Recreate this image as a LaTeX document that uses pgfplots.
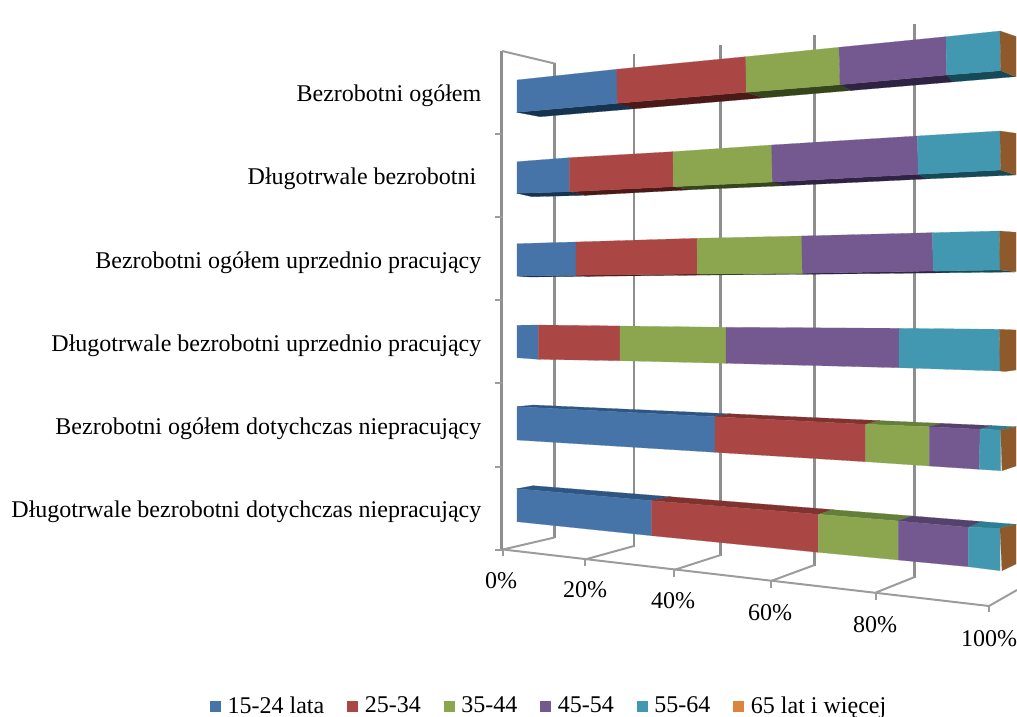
\documentclass[border=0pt]{standalone}
\usepackage{pgfplots}
\pgfplotsset{compat=1.18}
\usepackage{fontspec}
\setmainfont{Liberation Serif}
\definecolor{cB}{HTML}{4673A8}\definecolor{cR}{HTML}{AA4643}\definecolor{cG}{HTML}{8CA64F}
\definecolor{cP}{HTML}{735990}\definecolor{cT}{HTML}{4298B0}\definecolor{cO}{HTML}{DB843D}\definecolor{cE}{HTML}{8F5A2B}
\definecolor{tB}{HTML}{2F5583}\definecolor{tR}{HTML}{7F3330}\definecolor{tG}{HTML}{647F39}
\definecolor{tP}{HTML}{54426C}\definecolor{tT}{HTML}{2F7D93}
\definecolor{uB}{HTML}{16334F}\definecolor{uR}{HTML}{4A1A18}\definecolor{uG}{HTML}{36451C}
\definecolor{uP}{HTML}{2E2342}\definecolor{uT}{HTML}{174A59}
\definecolor{gl}{HTML}{8E8E8E}\definecolor{fl}{HTML}{9C9C9C}
\newcommand\seg[2]{\addplot[forget plot,draw=#1,line width=0.15pt,fill=#1] coordinates {#2} --cycle;}
\newcommand\wall[1]{\addplot[forget plot,draw=gl,line width=2.1pt] coordinates {#1};}
\newcommand\flo[1]{\addplot[forget plot,draw=fl,line width=1.5pt] coordinates {#1};}
\begin{document}
\begin{tikzpicture}
\path[use as bounding box] (0,0) rectangle (762.75pt,537.75pt);
\begin{axis}[
  at={(0,0)},anchor=south west,scale only axis,width=762.75pt,height=537.75pt,
  xmin=0,xmax=1017,ymin=0,ymax=717,y dir=reverse,
  axis line style={draw=none},tick style={draw=none},
  xtick=\empty,
  ytick={94,177,261,344,427,510},
  yticklabels={Bezrobotni ogółem,{Długotrwale bezrobotni\kern3.75pt},Bezrobotni ogółem uprzednio pracujący,Długotrwale bezrobotni uprzednio pracujący,Bezrobotni ogółem dotychczas niepracujący,Długotrwale bezrobotni dotychczas niepracujący},
  typeset ticklabels with strut,
  yticklabel style={font=\fontsize{18pt}{21pt}\selectfont,anchor=east,xshift=364.5pt,yshift=-1.5pt},
  legend columns=6,
  legend style={draw=none,fill=none,at={(axis cs:549.5,706)},anchor=center,
    font=\fontsize{18pt}{21pt}\selectfont,
    /tikz/every even column/.append style={column sep=15.2pt}},
  legend cell align=left,
  legend image code/.code={\path[draw=none,fill=none] (0pt,-3.75pt) rectangle (11pt,3.75pt);\fill[#1] (0pt,-3.75pt) rectangle (7.5pt,3.75pt);},
]
% walls and floor, in picture pixels
\wall{(501.7,51)(501.7,551)}
\wall{(554.5,63)(554.5,538)}
\wall{(634,54)(634,547)}
\wall{(720.7,45)(720.7,556)}
\wall{(814.5,35)(814.5,566)}
\wall{(914.7,24)(914.7,578)}
\flo{(502,51)(554.5,63.5)}
\flo{(495,134)(502,134)}\flo{(495,217)(502,217)}\flo{(495,300)(502,300)}
\flo{(495,383)(502,383)}\flo{(495,467)(502,467)}\flo{(495,550)(502,550)}
\flo{(503,549.5)(989,606)}
\flo{(503,549.5)(503,556)}\flo{(585,559.5)(585,566)}\flo{(674,570)(674,577)}
\flo{(771,581)(771,588)}\flo{(876,592.5)(876,600)}\flo{(989,606)(989,612)}
\flo{(503,549.5)(554.5,537.5)}\flo{(585,559.5)(634,546)}\flo{(674,570)(720.7,555)}
\flo{(771,581)(814.5,565)}\flo{(876,592.5)(914.7,577)}\flo{(989,606)(1017,590)}

% bar 1: Bezrobotni ogółem
\seg{uB}{(517,112.3)(617.3,103.3)(635,108.7)(540,116.7)}
\seg{uR}{(617.3,103.3)(746.3,92.3)(763,97.9)(635,108.7)}
\seg{uG}{(746.3,92.3)(840,84.7)(852,90.4)(763,97.9)}
\seg{uP}{(840,84.7)(946.7,75)(953,81.9)(852,90.4)}
\seg{uT}{(946.7,75)(1000.7,70.7)(1015,76.7)(953,81.9)}
\seg{cB}{(517,80)(616.7,69.3)(617.3,103.3)(517,112.3)}
\seg{cR}{(616.7,69.3)(745.7,56.7)(746.3,92.3)(617.3,103.3)}
\seg{cG}{(745.7,56.7)(839,47.3)(840,84.7)(746.3,92.3)}
\seg{cP}{(839,47.3)(946,36.7)(946.7,75)(840,84.7)}
\seg{cT}{(946,36.7)(1000,31)(1000.7,70.7)(946.7,75)}
\seg{cE}{(1000,31)(1016,36.5)(1016,76.7)(1000.7,70.7)}

% bar 2: Długotrwale bezrobotni
\seg{uB}{(517,193.3)(569.3,191.7)(586,195.3)(532,196.7)}
\seg{uR}{(569.3,191.7)(673.3,186.7)(690,189.8)(586,195.3)}
\seg{uG}{(673.3,186.7)(772.3,182)(785,185.7)(690,189.8)}
\seg{uP}{(772.3,182)(918.3,174.3)(927,178.9)(785,185.7)}
\seg{uT}{(918.3,174.3)(1000.7,170)(1015,175)(927,178.9)}
\seg{cB}{(517,161.7)(569.3,157.7)(569.3,191.7)(517,193.3)}
\seg{cR}{(569.3,157.7)(673,151.7)(673.3,186.7)(569.3,191.7)}
\seg{cG}{(673,151.7)(771.7,145)(772.3,182)(673.3,186.7)}
\seg{cP}{(771.7,145)(917.3,136)(918.3,174.3)(772.3,182)}
\seg{cT}{(917.3,136)(1000,131)(1000.7,170)(918.3,174.3)}
\seg{cE}{(1000,131)(1016,133.3)(1016,175)(1000.7,170)}

% bar 3: Bezrobotni ogółem uprzednio pracujący
\seg{uB}{(517,276)(576,275.3)(590,276.3)(530,277)}
\seg{uR}{(576,275.3)(697.3,274)(710,275)(590,276.3)}
\seg{uG}{(697.3,274)(802.3,273.3)(815,274.2)(710,275)}
\seg{uP}{(802.3,273.3)(933.3,271)(945,272.8)(815,274.2)}
\seg{uT}{(933.3,271)(1000,270)(1015,272)(945,272.8)}
\seg{cB}{(517,243.7)(576,242)(576,275.3)(517,276)}
\seg{cR}{(576,242)(697,238.3)(697.3,274)(576,275.3)}
\seg{cG}{(697,238.3)(801.7,236)(802.3,273.3)(697.3,274)}
\seg{cP}{(801.7,236)(932.3,232.7)(933.3,271)(802.3,273.3)}
\seg{cT}{(932.3,232.7)(999.5,231)(1000,270)(933.3,271)}
\seg{cE}{(999.5,231)(1016,232.3)(1016,271.7)(1000,270)}

% bar 4: Długotrwale bezrobotni uprzednio pracujący
\seg{cB}{(517,325.3)(538.3,325)(538.3,359.3)(517,357.7)}
\seg{cR}{(538.3,325)(620,326)(620,360.7)(538.3,359.3)}
\seg{cG}{(620,326)(726,327.3)(726,363.3)(620,360.7)}
\seg{cP}{(726,327.3)(899,328.3)(899,367.7)(726,363.3)}
\seg{cT}{(899,328.3)(999.5,329.3)(1000,371)(899,367.7)}
\seg{cE}{(999.5,329.3)(1016,330)(1016,370)(1005,371.5)(1000,371)}

% bar 5: Bezrobotni ogółem dotychczas niepracujący
\seg{tB}{(517,406.7)(533,405)(730,413.8)(715,416.7)}
\seg{tR}{(715,416.7)(730,413.8)(880,420.6)(865.7,424.3)}
\seg{tG}{(865.7,424.3)(880,420.6)(942,423.4)(929.3,426.7)}
\seg{tP}{(929.3,426.7)(942,423.4)(992,425.6)(980,429.3)}
\seg{tT}{(980,429.3)(992,425.6)(1016,426.7)(1000.7,430)}
\seg{cB}{(517,406.7)(715,416.7)(715,452.3)(517,440)}
\seg{cR}{(715,416.7)(865.7,424.3)(865.7,461.7)(715,452.3)}
\seg{cG}{(865.7,424.3)(929.3,426.7)(929.3,466)(865.7,461.7)}
\seg{cP}{(929.3,426.7)(980,429.3)(979.3,469.3)(929.3,466)}
\seg{cT}{(980,429.3)(1000.7,430)(1000.7,470.7)(979.3,469.3)}
\seg{cE}{(1000.7,430)(1016,426.7)(1016,466)(1002,470.7)}

% bar 6: Długotrwale bezrobotni dotychczas niepracujący
\seg{tB}{(517,488.7)(533,485.7)(670,496.7)(651.7,500.7)}
\seg{tR}{(651.7,500.7)(670,496.7)(833,509.7)(818.3,514.3)}
\seg{tG}{(818.3,514.3)(833,509.7)(912,516)(898.3,521)}
\seg{tP}{(898.3,521)(912,516)(982,521.6)(968.3,527.3)}
\seg{tT}{(968.3,527.3)(982,521.6)(1016,524.3)(1000,528.3)}
\seg{cB}{(517,488.7)(651.7,500.7)(651.7,535.7)(517,521.7)}
\seg{cR}{(651.7,500.7)(818.3,514.3)(818.3,552.3)(651.7,535.7)}
\seg{cG}{(818.3,514.3)(898.3,521)(898.3,560)(818.3,552.3)}
\seg{cP}{(898.3,521)(968.3,527.3)(968.3,566.7)(898.3,560)}
\seg{cT}{(968.3,527.3)(1000,528.3)(1000,570.7)(968.3,566.7)}
\seg{cE}{(1000,528.3)(1016,524.3)(1016,564)(1002,570.7)}

\addlegendimage{cB}\addlegendentry{15-24 lata}
\addlegendimage{cR}\addlegendentry{25-34}
\addlegendimage{cG}\addlegendentry{35-44}
\addlegendimage{cP}\addlegendentry{45-54}
\addlegendimage{cT}\addlegendentry{55-64}
\addlegendimage{cO}\addlegendentry{65 lat i więcej}

\foreach \x/\y/\t in {501/581/0\%,585/590/20\%,673/601/40\%,770/613/60\%,875/625/80\%,989/639/100\%}{
  \edef\tmp{\noexpand\node[font=\noexpand\fontsize{18pt}{21pt}\noexpand\selectfont] at (axis cs:\x,\y) {\t};}\tmp
}
\end{axis}
\end{tikzpicture}
\end{document}
